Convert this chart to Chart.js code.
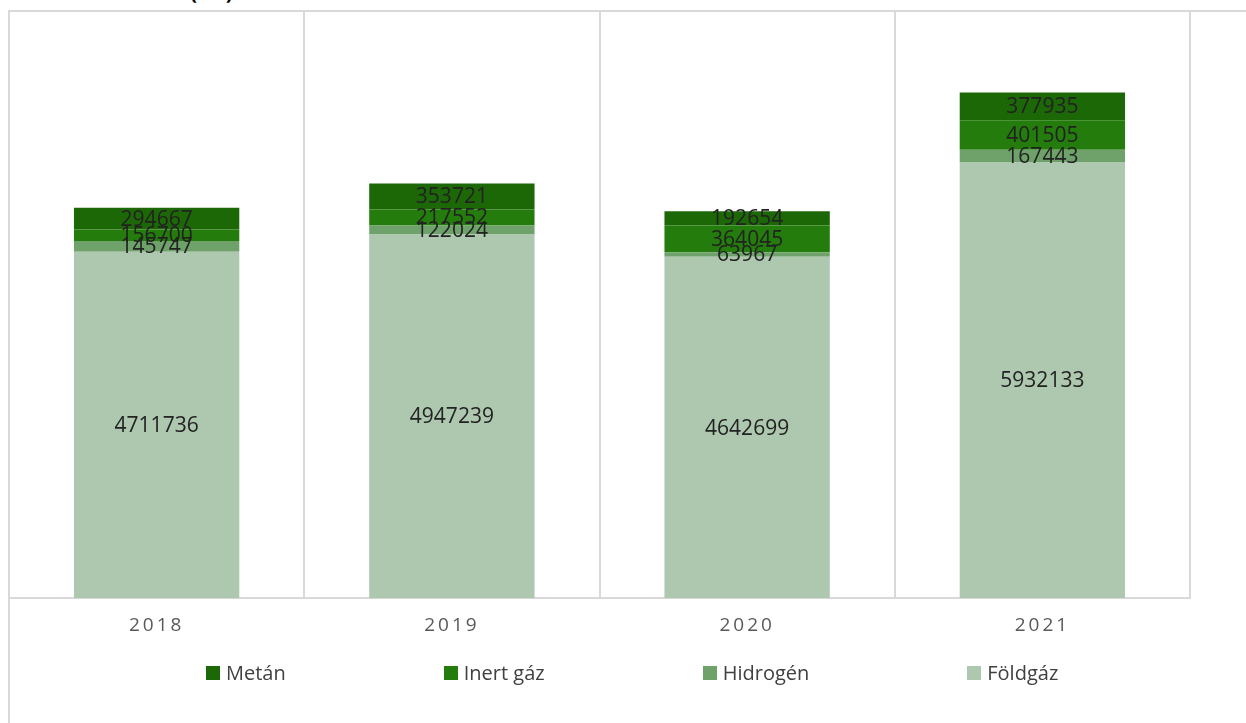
<!DOCTYPE html>
<html>
<head>
<meta charset="utf-8">
<script src="https://cdn.jsdelivr.net/npm/chart.js@4"></script>
<style>
  html, body { margin: 0; padding: 0; background: #fff; overflow: hidden; }
  #wrap { position: relative; width: 1246px; height: 723px; overflow: hidden; font-family: "Open Sans", sans-serif; }
  #keret { position: absolute; left: 8px; top: 10px; width: 2000px; height: 2000px;
           border-left: 2px solid #d9d9d9; border-top: 2px solid #d9d9d9; box-sizing: border-box; }
  #cim { position: absolute; left: 190px; top: -23px; font-size: 21px; font-weight: bold; color: #000; line-height: normal; white-space: nowrap; }
  #grafikon { position: absolute; left: 0; top: 0; }
  #jelmagyarazat { position: absolute; left: 206px; top: 659px; display: flex; gap: 158px; font-size: 20px; color: #404040; }
  #jelmagyarazat span.tetel { display: flex; align-items: center; white-space: nowrap; }
  #jelmagyarazat span.doboz { width: 14px; height: 14px; margin-right: 6px; display: inline-block; }
</style>
</head>
<body>
<div id="wrap">
  <div id="keret"></div>
  <div id="cim">(m³)</div>
  <canvas id="grafikon" width="1246" height="723"></canvas>
  <div id="jelmagyarazat"></div>
</div>
<script>
// Adatok
const evek = ['2018', '2019', '2020', '2021'];
const foldgaz = [4711736, 4947239, 4642699, 5932133];
const hidrogen = [145747, 122024, 63967, 167443];
const inertGaz = [156700, 217552, 364045, 401505];
const metan = [294667, 353721, 192654, 377935];

const sorozatNevek = ['Földgáz', 'Hidrogén', 'Inert gáz', 'Metán'];
const sorozatAdatok = [foldgaz, hidrogen, inertGaz, metan];
const szinek = ['#aec8af', '#6fa26b', '#237c0b', '#1d6806'];

// Cimkek a szegmensek kozepen
const cimkePlugin = {
    id: 'cimkek',
    afterDatasetsDraw(chart) {
        const ctx = chart.ctx;
        ctx.save();
        ctx.letterSpacing = '0px';
        ctx.font = '21px "Open Sans"';
        ctx.fillStyle = '#222';
        ctx.textAlign = 'center';
        ctx.textBaseline = 'middle';
        chart.data.datasets.forEach((ds, i) => {
            chart.getDatasetMeta(i).data.forEach((bar, j) => {
                const y = (bar.y + bar.base) / 2;
                ctx.fillText(String(ds.data[j]), bar.x, y + 1);
            });
        });
        ctx.restore();
    }
};

// Betukoz a tengely feliratokhoz
const betukozPlugin = {
    id: 'betukoz',
    beforeDraw(chart) { chart.ctx.letterSpacing = '3px'; },
    beforeDatasetsDraw(chart) { chart.ctx.letterSpacing = '0px'; }
};

const ctx = document.getElementById('grafikon').getContext('2d');
new Chart(ctx, {
    type: 'bar',
    data: {
        labels: evek,
        datasets: sorozatNevek.map((nev, i) => ({
            label: nev,
            data: sorozatAdatok[i],
            backgroundColor: szinek[i],
            borderWidth: 0,
            barPercentage: 1,
            categoryPercentage: 0.56
        }))
    },
    options: {
        responsive: false,
        animation: false,
        layout: { padding: { left: 9, top: 10, right: 56, bottom: 70 } },
        plugins: {
            legend: { display: false },
            tooltip: { enabled: false }
        },
        scales: {
            x: {
                stacked: true,
                grid: { display: true, offset: true, color: '#d9d9d9', lineWidth: 2, drawTicks: false },
                border: { display: true, color: '#d9d9d9', width: 2 },
                ticks: { color: '#595959', font: { family: 'Open Sans', size: 19 }, padding: 16 }
            },
            y: {
                stacked: true,
                display: false,
                min: 0,
                max: 8000000
            }
        }
    },
    plugins: [cimkePlugin, betukozPlugin]
});

// Jelmagyarazat (forditott sorrend)
const jm = document.getElementById('jelmagyarazat');
for (let i = sorozatNevek.length - 1; i >= 0; i--) {
    const t = document.createElement('span');
    t.className = 'tetel';
    const d = document.createElement('span');
    d.className = 'doboz';
    d.style.background = szinek[i];
    t.appendChild(d);
    t.appendChild(document.createTextNode(sorozatNevek[i]));
    jm.appendChild(t);
}
</script>
</body>
</html>
